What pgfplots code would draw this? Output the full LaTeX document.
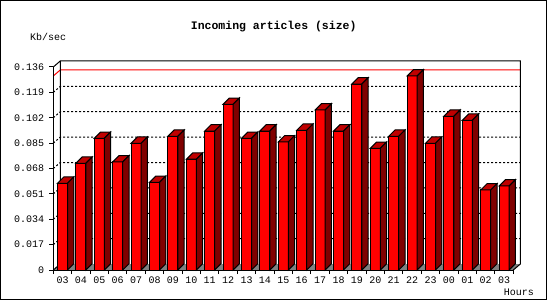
\documentclass[border=0pt]{standalone}
\usepackage{fontspec}
\setmainfont{Liberation Mono}
\usepackage{pgfplots}
\usepackage{pgfplotstable}
\pgfplotsset{compat=1.18}
\definecolor{topred}{HTML}{C00000}
\definecolor{sidered}{HTML}{800000}
\definecolor{floorgray}{HTML}{808080}

\pgfplotstableread{
x y
0 0.0581
1 0.0715
2 0.0882
3 0.0724
4 0.0849
5 0.0587
6 0.0896
7 0.0742
8 0.0931
9 0.1110
10 0.0882
11 0.0931
12 0.0858
13 0.0936
14 0.1072
15 0.0931
16 0.1246
17 0.0815
18 0.0896
19 0.1300
20 0.0849
21 0.1030
22 0.1003
23 0.0536
24 0.0563
}\datatable

\pgfdeclareplotmark{bar3d}{%
  \pgfkeys{/pgf/fpu=false}%
  \pgfmathsetmacro\hh{\ry*1492.647}%
  \pgfmathsetmacro\hb{6.3-\hh}%
  \pgfsetlinewidth{1bp}%
  \pgfsetstrokecolor{black}%
  \pgfpathmoveto{\pgfpoint{-5bp}{0bp}}%
  \pgfpathlineto{\pgfpoint{5bp}{0bp}}%
  \pgfpathlineto{\pgfpoint{11.3bp}{6.3bp}}%
  \pgfpathlineto{\pgfpoint{1.3bp}{6.3bp}}%
  \pgfpathclose
  \pgfsetfillcolor{topred}%
  \pgfusepath{fill,stroke}%
  \pgfpathmoveto{\pgfpoint{5bp}{0bp}}%
  \pgfpathlineto{\pgfpoint{11.3bp}{6.3bp}}%
  \pgfpathlineto{\pgfpoint{11.3bp}{\hb bp}}%
  \pgfpathlineto{\pgfpoint{5bp}{-\hh bp}}%
  \pgfpathclose
  \pgfsetfillcolor{sidered}%
  \pgfusepath{fill,stroke}%
}

\begin{document}
\begin{tikzpicture}[x=1bp,y=1bp]
\useasboundingbox (0,0) rectangle (550,300);
\fill[white] (0,0) rectangle (550,300);
\draw[line width=1bp] (0.5,0.7) rectangle (546.7,299.5);
\begin{axis}[
  at={(53.3bp,30bp)}, anchor=south west,
  scale only axis, width=460bp, height=203bp,
  xmin=-0.5, xmax=24.5, ymin=0, ymax=0.136,
  axis lines*=left,
  axis line style={-, line width=1bp, black},
  clip=false, axis on top,
  tick align=outside, major tick length=4bp,
  tick style={black, line width=1bp},
  xtick={-0.5,0.5,...,24.5},
  x tick label as interval,
  xticklabels={03,04,05,06,07,08,09,10,11,12,13,14,15,16,17,18,19,20,21,22,23,00,01,02,03},
  ytick={0,0.017,0.034,0.051,0.068,0.085,0.102,0.119,0.136},
  yticklabels={0,0.017,0.034,0.051,0.068,0.085,0.102,0.119,0.136},
  ticklabel style={font=\fontsize{10bp}{12bp}\selectfont, inner sep=0pt},
  xticklabel style={anchor=base, yshift=-9bp},
  yticklabel style={anchor=east, xshift=-5bp},
]
% floor
\fill[floorgray] (axis cs:-0.5,0) -- (axis cs:24.5,0) -- ([shift={(7bp,6bp)}]axis cs:24.5,0) -- ([shift={(7bp,6bp)}]axis cs:-0.5,0) -- cycle;
% grid lines on side and back wall
\pgfplotsinvokeforeach{0.017,0.034,0.051,0.068,0.085,0.102,0.119}{
  \draw[black, line width=1bp, dash pattern=on 2bp off 2bp] (axis cs:-0.5,#1) -- ([shift={(7bp,6bp)}]axis cs:-0.5,#1) -- ([shift={(7bp,6bp)}]axis cs:24.5,#1);
}
% maximum line
\draw[red, line width=1bp] (axis cs:-0.5,0.130) -- ([shift={(7bp,6bp)}]axis cs:-0.5,0.130) -- ([shift={(7bp,6bp)}]axis cs:24.5,0.130);
% back wall frame
\draw[black, line width=1bp] ([shift={(7bp,6bp)}]axis cs:-0.5,0) -- ([shift={(7bp,6bp)}]axis cs:-0.5,0.136) -- ([shift={(7bp,6bp)}]axis cs:24.5,0.136) -- ([shift={(7bp,6bp)}]axis cs:24.5,0) -- (axis cs:24.5,0);
\draw[black, line width=1bp] (axis cs:-0.5,0.136) -- ([shift={(7bp,6bp)}]axis cs:-0.5,0.136);
\draw[black, line width=1bp] (axis cs:-0.5,0) -- ([shift={(7bp,6bp)}]axis cs:-0.5,0);
% bars: front faces
\addplot[ybar, bar width=10bp, bar shift=0pt, fill=red, draw=black, line width=1bp] table[x=x,y=y] {\datatable};
% bars: top and side faces
\addplot[only marks, mark=bar3d, visualization depends on={rawy \as \ry}] table[x=x,y=y] {\datatable};
\end{axis}
\node[font=\bfseries\fontsize{11.5bp}{13bp}\selectfont] at (273.7,273.3) {Incoming articles (size)};
\node[anchor=west, inner sep=0pt, font=\fontsize{10bp}{12bp}\selectfont] at (30,263.3) {Kb/sec};
\node[inner sep=0pt, font=\fontsize{10bp}{12bp}\selectfont] at (518.8,7.3) {Hours};
\end{tikzpicture}
\end{document}
